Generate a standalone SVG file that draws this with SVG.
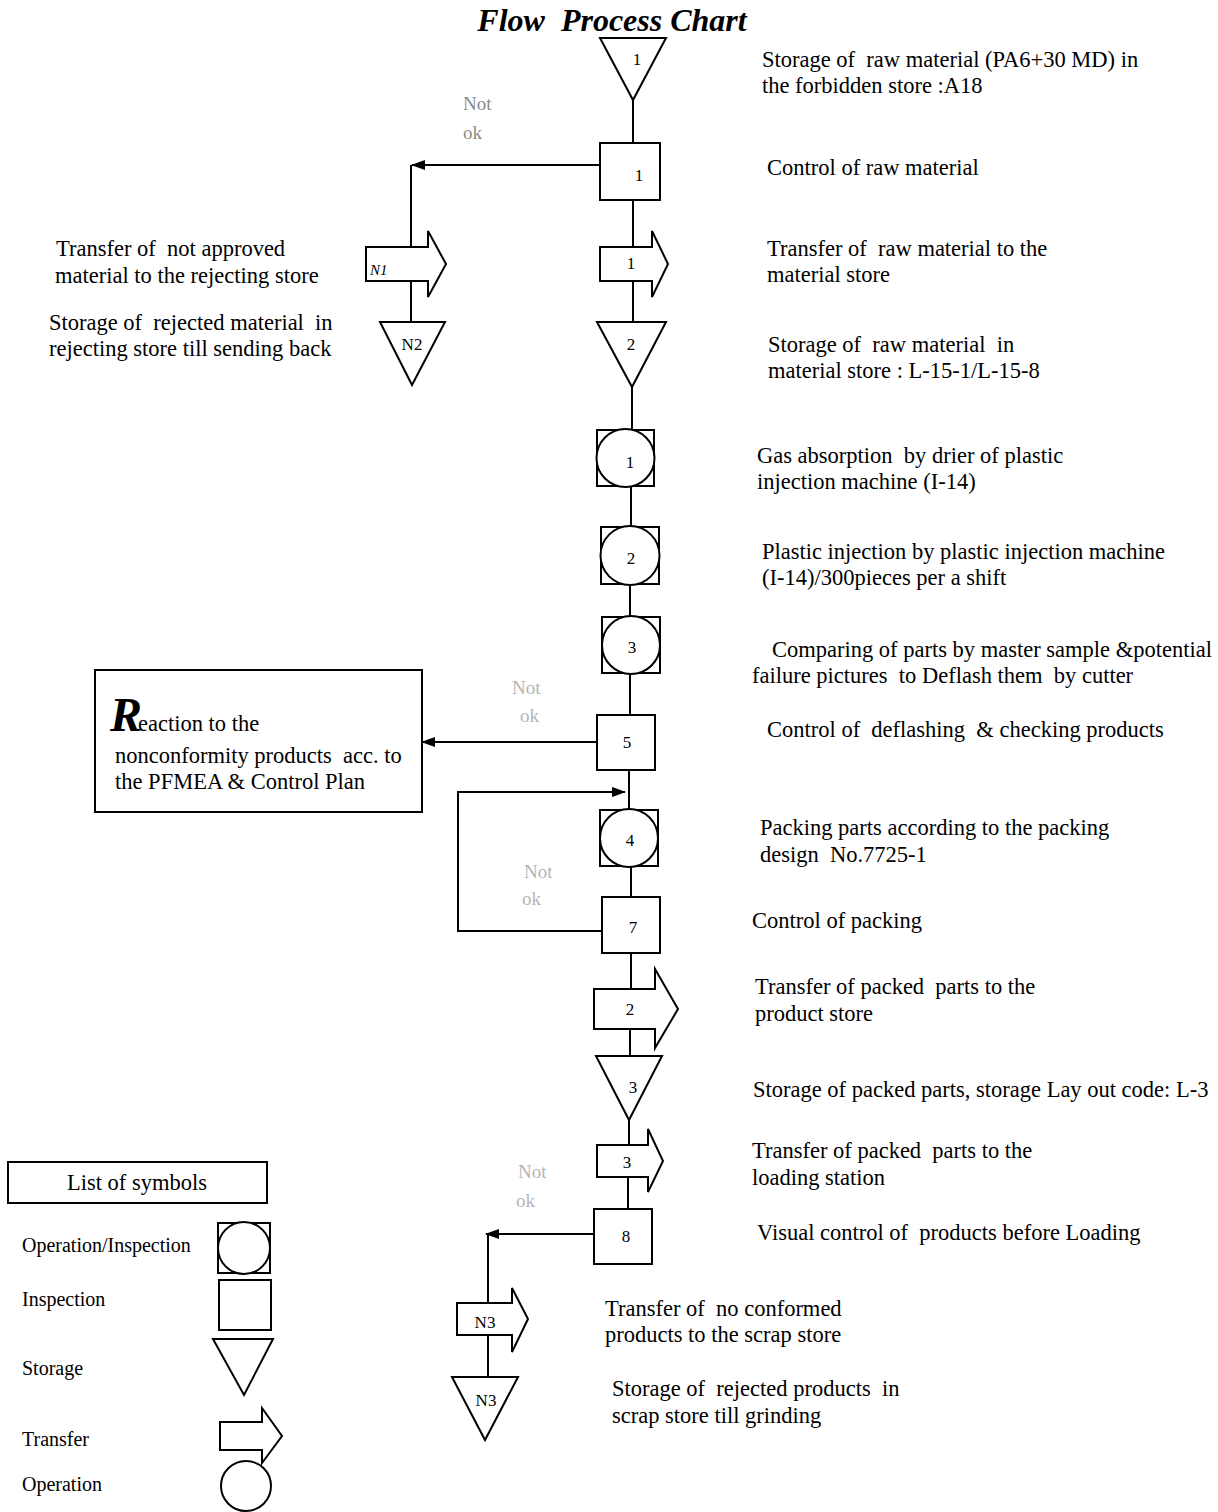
<svg xmlns="http://www.w3.org/2000/svg" width="1218" height="1512" viewBox="0 0 1218 1512">
<style>
text{font-family:"Liberation Serif","Times New Roman",serif;fill:#000;white-space:pre}
.d{font-size:22.5px}
.n{font-size:17px;text-anchor:middle}
.g{font-size:19px;fill:#8a8a8a}
.g2{font-size:19px;fill:#b5b5b5}
.lg{font-size:20px}
.sh{fill:#fff;stroke:#000;stroke-width:2}
.ln{fill:none;stroke:#000;stroke-width:2}
</style>
<defs>
<marker id="ah" viewBox="0 0 14 10" refX="13" refY="5" markerWidth="14" markerHeight="10" markerUnits="userSpaceOnUse" orient="auto">
<path d="M0,0 L14,5 L0,10 z" fill="#000"/>
</marker>
</defs>
<rect width="1218" height="1512" fill="#fff"/>
<text x="612" y="31" font-size="32" font-weight="bold" font-style="italic" text-anchor="middle">Flow  Process Chart</text>

<g id="connectors">
<path class="ln" d="M633,100 V143"/>
<path class="ln" d="M633,200 V247"/>
<path class="ln" d="M633,281 V322"/>
<path class="ln" d="M632,387 V430"/>
<path class="ln" d="M631,486 V527"/>
<path class="ln" d="M630,584 V617"/>
<path class="ln" d="M630,673 V715"/>
<path class="ln" d="M629,770 V810"/>
<path class="ln" d="M631,866 V897"/>
<path class="ln" d="M631,953 V989"/>
<path class="ln" d="M630,1029 V1056"/>
<path class="ln" d="M629,1120 V1145"/>
<path class="ln" d="M628,1177 V1209"/>
<path class="ln" d="M600,165 H412" marker-end="url(#ah)"/>
<path class="ln" d="M411,165 V247"/>
<path class="ln" d="M411,281 V322"/>
<path class="ln" d="M597,742 H422" marker-end="url(#ah)"/>
<path class="ln" d="M602,931 H458 V792 H625" marker-end="url(#ah)"/>
<path class="ln" d="M594,1234 H486" marker-end="url(#ah)"/>
<path class="ln" d="M488,1234 V1303"/>
<path class="ln" d="M488,1335 V1377"/>
</g>

<g id="S1"><polygon class="sh" points="600,38 666,38 633,100"/><text class="n" x="637" y="65" font-size="15">1</text></g>
<g id="I1"><rect class="sh" x="600" y="143" width="60" height="57"/><text class="n" x="639" y="181">1</text></g>
<g id="T1"><polygon class="sh" points="600,247 652,247 652,231 668,264 652,297 652,281 600,281"/><text class="n" x="631" y="269" font-size="13">1</text></g>
<g id="S2"><polygon class="sh" points="597,322 666,322 632,387"/><text class="n" x="631" y="350">2</text></g>
<g id="O1"><rect class="sh" x="597" y="430" width="57" height="56"/><circle class="sh" cx="625.5" cy="458" r="29"/><text class="n" x="630" y="468">1</text></g>
<g id="O2"><rect class="sh" x="601" y="527" width="58" height="57"/><circle class="sh" cx="630" cy="555.5" r="29.5"/><text class="n" x="631" y="564">2</text></g>
<g id="O3"><rect class="sh" x="602" y="617" width="58" height="56"/><circle class="sh" cx="631" cy="645" r="29"/><text class="n" x="632" y="653">3</text></g>
<g id="I5"><rect class="sh" x="597" y="715" width="58" height="55"/><text class="n" x="627" y="748">5</text></g>
<g id="O4"><rect class="sh" x="600" y="810" width="58" height="56"/><circle class="sh" cx="629" cy="838" r="29"/><text class="n" x="630" y="846">4</text></g>
<g id="I7"><rect class="sh" x="602" y="897" width="58" height="56"/><text class="n" x="633" y="933" font-size="18">7</text></g>
<g id="T2"><polygon class="sh" points="594,989 655,989 655,969 678,1009 655,1048 655,1029 594,1029"/><text class="n" x="630" y="1015">2</text></g>
<g id="S3"><polygon class="sh" points="596,1056 662,1056 629,1120"/><text class="n" x="633" y="1093" font-size="19">3</text></g>
<g id="T3"><polygon class="sh" points="597,1145 648,1145 648,1129 663,1161 648,1192 648,1177 597,1177"/><text class="n" x="627" y="1168">3</text></g>
<g id="I8"><rect class="sh" x="594" y="1209" width="58" height="55"/><text class="n" x="626" y="1242">8</text></g>

<g id="TN1"><polygon class="sh" points="366,247 428,247 428,231 446,264 428,297 428,281 366,281"/><text x="370" y="275" font-size="15" font-style="italic">N1</text></g>
<g id="SN2"><polygon class="sh" points="380,322 445,322 412,385"/><text class="n" x="412" y="350" font-size="14">N2</text></g>
<g id="TN3"><polygon class="sh" points="457,1303 512,1303 512,1288 528,1319 512,1352 512,1335 457,1335"/><text class="n" x="485" y="1328" font-size="14">N3</text></g>
<g id="SN3"><polygon class="sh" points="452,1377 518,1377 485,1440"/><text class="n" x="486" y="1406" font-size="14">N3</text></g>

<g id="reaction">
<rect class="sh" x="95" y="670" width="327" height="142"/>
<text x="110" y="731" font-size="48" font-weight="bold" font-style="italic">R</text>
<text class="d" x="138" y="731">eaction to the</text>
<text class="d" x="115" y="763">nonconformity products  acc. to</text>
<text class="d" x="115" y="789">the PFMEA &amp; Control Plan</text>
</g>

<g id="notok">
<text class="g" x="463" y="110">Not</text><text class="g" x="463" y="139">ok</text>
<text class="g2" x="512" y="694">Not</text><text class="g2" x="520" y="722">ok</text>
<text class="g2" x="524" y="878">Not</text><text class="g2" x="522" y="905">ok</text>
<text class="g2" x="518" y="1178">Not</text><text class="g2" x="516" y="1207">ok</text>
</g>

<g id="descriptions">
<text class="d" x="762" y="67">Storage of  raw material (PA6+30 MD) in</text>
<text class="d" x="762" y="93">the forbidden store :A18</text>
<text class="d" x="767" y="175">Control of raw material</text>
<text class="d" x="767" y="256">Transfer of  raw material to the</text>
<text class="d" x="767" y="282">material store</text>
<text class="d" x="768" y="352">Storage of  raw material  in</text>
<text class="d" x="768" y="378">material store : L-15-1/L-15-8</text>
<text class="d" x="757" y="463">Gas absorption  by drier of plastic</text>
<text class="d" x="757" y="489">injection machine (I-14)</text>
<text class="d" x="762" y="559">Plastic injection by plastic injection machine</text>
<text class="d" x="762" y="585">(I-14)/300pieces per a shift</text>
<text class="d" x="772" y="657">Comparing of parts by master sample &amp;potential</text>
<text class="d" x="752" y="683">failure pictures  to Deflash them  by cutter</text>
<text class="d" x="767" y="737">Control of  deflashing  &amp; checking products</text>
<text class="d" x="760" y="835">Packing parts according to the packing</text>
<text class="d" x="760" y="862">design  No.7725-1</text>
<text class="d" x="752" y="928">Control of packing</text>
<text class="d" x="755" y="994">Transfer of packed  parts to the</text>
<text class="d" x="755" y="1021">product store</text>
<text class="d" x="753" y="1097">Storage of packed parts, storage Lay out code: L-3</text>
<text class="d" x="752" y="1158">Transfer of packed  parts to the</text>
<text class="d" x="752" y="1185">loading station</text>
<text class="d" x="757" y="1240">Visual control of  products before Loading</text>
<text class="d" x="605" y="1316">Transfer of  no conformed</text>
<text class="d" x="605" y="1342">products to the scrap store</text>
<text class="d" x="612" y="1396">Storage of  rejected products  in</text>
<text class="d" x="612" y="1423">scrap store till grinding</text>
<text class="d" x="56" y="256">Transfer of  not approved</text>
<text class="d" x="55" y="283">material to the rejecting store</text>
<text class="d" x="49" y="330">Storage of  rejected material  in</text>
<text class="d" x="49" y="356">rejecting store till sending back</text>
</g>

<g id="legend">
<rect class="sh" x="8" y="1162" width="259" height="41"/>
<text class="d" x="137" y="1190" text-anchor="middle">List of symbols</text>
<text class="lg" x="22" y="1252">Operation/Inspection</text>
<rect class="sh" x="218" y="1223" width="52" height="50"/><circle class="sh" cx="244" cy="1248" r="26"/>
<text class="lg" x="22" y="1306">Inspection</text>
<rect class="sh" x="219" y="1280" width="52" height="50"/>
<text class="lg" x="22" y="1375">Storage</text>
<polygon class="sh" points="213,1339 273,1339 244,1395"/>
<text class="lg" x="22" y="1446">Transfer</text>
<polygon class="sh" points="220,1422 262,1422 262,1408 282,1436 262,1463 262,1450 220,1450"/>
<text class="lg" x="22" y="1491">Operation</text>
<circle class="sh" cx="246" cy="1486" r="25"/>
</g>
</svg>
